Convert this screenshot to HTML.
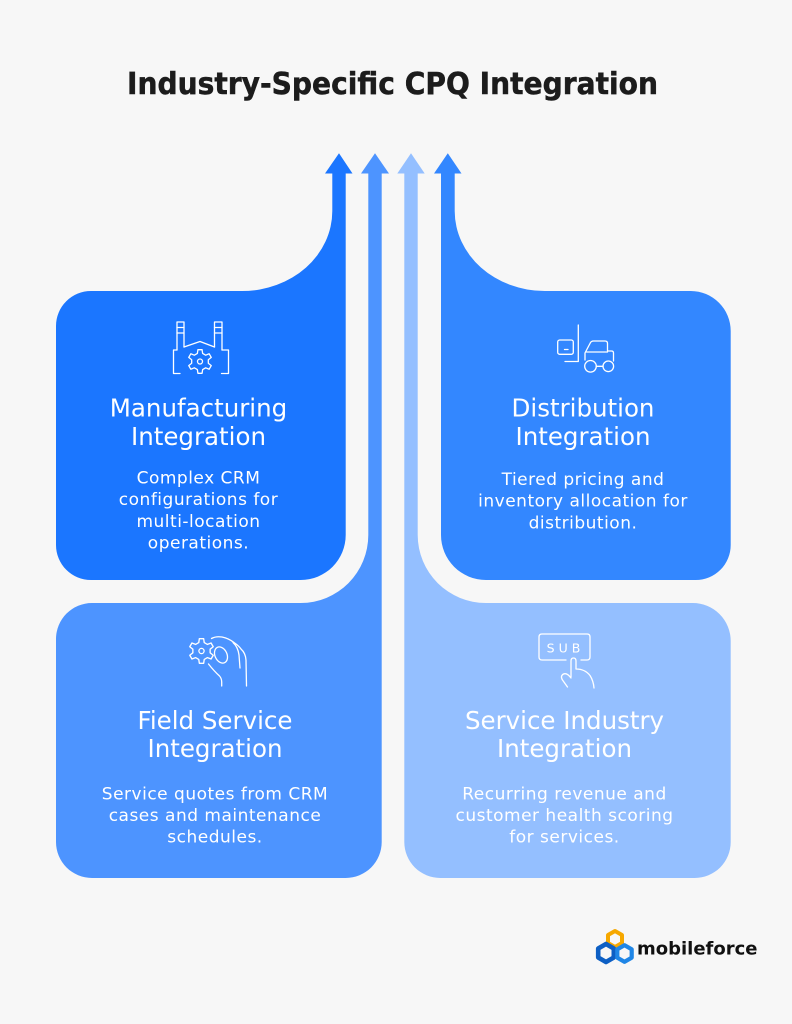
<!DOCTYPE html>
<html>
<head>
<meta charset="utf-8">
<style>
  html, body { margin:0; padding:0; background:#f7f7f7; }
  body { width:792px; height:1024px; overflow:hidden; }
  svg { display:block; }
  .t { font-family: "DejaVu Sans", "Liberation Sans", sans-serif; fill:#ffffff; text-anchor:middle; }
  .h { font-size:24.5px; }
  .b { font-size:17px; letter-spacing:0.5px; }
  .ic { fill:none; stroke:#ffffff; stroke-width:1.3; stroke-linecap:round; stroke-linejoin:round; }
</style>
</head>
<body>
<svg width="792" height="1024" viewBox="0 0 792 1024" xmlns="http://www.w3.org/2000/svg">
  <rect width="792" height="1024" fill="#f7f7f7"/>

  <!-- Title -->
  <text x="392.5" y="94" font-family="'DejaVu Sans', 'Liberation Sans', sans-serif" font-weight="bold" font-size="30" fill="#1c1c1c" stroke="#1c1c1c" stroke-width="0.5" text-anchor="middle" textLength="531" lengthAdjust="spacingAndGlyphs">Industry-Specific CPQ Integration</text>

  <!-- Shape 2: Field Service -->
  <path fill="#4d94ff" d="M368.3 173 L381.7 173 L381.7 842 A36 36 0 0 1 345.7 878 L92 878 A36 36 0 0 1 56 842 L56 639 A36 36 0 0 1 92 603 L300.7 603 A67.6 68 0 0 0 368.3 535 Z"/>
  <polygon fill="#4d94ff" points="361,173.5 375,153.3 389,173.5"/>

  <!-- Shape 3: Service Industry -->
  <path fill="#94bfff" d="M404.3 173 L417.7 173 L417.7 535 A68.3 68 0 0 0 486 603 L692.7 603 A38 38 0 0 1 730.7 641 L730.7 842 A36 36 0 0 1 694.7 878 L440.3 878 A36 36 0 0 1 404.3 842 Z"/>
  <polygon fill="#94bfff" points="397.3,173.5 411,153.3 424.7,173.5"/>

  <!-- Shape 1: Manufacturing -->
  <path fill="#1b76ff" d="M345.7 173 L332.3 173 L332.3 211 A90 80 0 0 1 242.3 291 L91 291 A35 35 0 0 0 56 326 L56 545 A35 35 0 0 0 91 580 L300.7 580 A45 45 0 0 0 345.7 535 Z"/>
  <polygon fill="#1b76ff" points="325,173.5 339,153.3 352.5,173.5"/>

  <!-- Shape 4: Distribution -->
  <path fill="#3387ff" d="M441 173 L454.7 173 L454.7 211 A90 80 0 0 0 544.7 291 L690.7 291 A40 40 0 0 1 730.7 331 L730.7 545 A35 35 0 0 1 695.7 580 L486 580 A45 45 0 0 1 441 535 Z"/>
  <polygon fill="#3387ff" points="434,173.5 447.8,153.3 461.5,173.5"/>

  <!-- Manufacturing icon -->
  <g class="ic">
    <path d="M177 350 V322 H184 V347"/>
    <path d="M177 327.5 H184 M177 333 H184"/>
    <path d="M214.5 347 V322 H222 V350"/>
    <path d="M214.5 327.5 H222 M214.5 333 H222"/>
    <path d="M184 347 L200 341.5 L214.5 347"/>
    <path d="M177 350 H173.5 V373.5 H180"/>
    <path d="M222 350 H228.5 V373.5 H221.5"/>
    <polygon transform="translate(200,361.5)" points="-2.63,-8.08 -2.08,-11.82 2.08,-11.82 2.63,-8.08 5.69,-6.32 9.19,-7.71 11.28,-4.10 8.31,-1.77 8.31,1.77 11.28,4.10 9.19,7.71 5.69,6.32 2.63,8.08 2.08,11.82 -2.08,11.82 -2.63,8.08 -5.69,6.32 -9.19,7.71 -11.28,4.10 -8.31,1.77 -8.31,-1.77 -11.28,-4.10 -9.19,-7.71 -5.69,-6.32"/>
    <circle cx="200" cy="361.5" r="2.5"/>
  </g>

  <!-- Distribution icon (forklift) -->
  <g class="ic">
    <rect x="557.7" y="340" width="15.6" height="14.3" rx="2"/>
    <path d="M564.5 349.5 H568"/>
    <path d="M578.3 325 V361.5 H565"/>
    <path d="M585 360 V353 L590 343.5 Q591 341 593.5 341 L605 341 Q607.5 341 607.5 343.5 L607.5 351 L611.5 351 Q613.5 351 613.5 353 L613.5 361"/>
    <path d="M586.5 352 H607.5"/>
    <circle cx="590.5" cy="366.3" r="5.8"/>
    <circle cx="608.3" cy="366.3" r="5.3"/>
    <path d="M596.3 366.3 H603"/>
  </g>

  <!-- Field Service icon -->
  <g class="ic">
    <polygon transform="translate(201.5,651) scale(1.04)" points="-2.63,-8.08 -2.08,-11.82 2.08,-11.82 2.63,-8.08 5.69,-6.32 9.19,-7.71 11.28,-4.10 8.31,-1.77 8.31,1.77 11.28,4.10 9.19,7.71 5.69,6.32 2.63,8.08 2.08,11.82 -2.08,11.82 -2.63,8.08 -5.69,6.32 -9.19,7.71 -11.28,4.10 -8.31,1.77 -8.31,-1.77 -11.28,-4.10 -9.19,-7.71 -5.69,-6.32"/>
    <circle cx="201.5" cy="651" r="2.6"/>
    <ellipse cx="221" cy="655" rx="6" ry="8.5" transform="rotate(-25 221 655)"/>
    <path d="M211.5 638.5 Q216 636 222 637 Q229 638.5 234 642.5 Q239 646 241 649 Q245.5 653 246 660 L246.5 686"/>
    <path d="M233 642.5 Q238 647 239 655 L240 668"/>
    <path d="M208.5 664 Q214 671 219.5 676 Q221.7 678.5 221.7 682 L221.7 686"/>
  </g>

  <!-- Service Industry icon (SUB) -->
  <g class="ic">
    <path d="M566 660 H542 Q539 660 539 657 V637 Q539 634 542 634 H587 Q590 634 590 637 V657 Q590 660 587 660 H581"/>
    <path d="M571 677 V661 Q571 658 573.5 658 Q576 658 576 661 V669 Q585 669 590 675.5 Q593.5 681 594 688"/>
    <path d="M571 678 Q567 672.5 563.5 674 Q560 676 562.5 680 L567.5 687"/>
  </g>
  <text x="565.5" y="652.3" font-family="'DejaVu Sans', 'Liberation Sans', sans-serif" font-size="12.5" fill="#ffffff" text-anchor="middle" letter-spacing="4">SUB</text>

  <!-- Manufacturing text -->
  <text class="t h" x="198.5" y="416.7">Manufacturing</text>
  <text class="t h" x="198.5" y="445">Integration</text>
  <text class="t b" x="198.5" y="483.5">Complex CRM</text>
  <text class="t b" x="198.5" y="505.2">configurations for</text>
  <text class="t b" x="198.5" y="526.9">multi-location</text>
  <text class="t b" x="198.5" y="548.6">operations.</text>

  <!-- Distribution text -->
  <text class="t h" x="583" y="416.7">Distribution</text>
  <text class="t h" x="583" y="445">Integration</text>
  <text class="t b" x="583" y="485">Tiered pricing and</text>
  <text class="t b" x="583" y="506.7">inventory allocation for</text>
  <text class="t b" x="583" y="528.4">distribution.</text>

  <!-- Field Service text -->
  <text class="t h" x="215" y="729">Field Service</text>
  <text class="t h" x="215" y="757">Integration</text>
  <text class="t b" x="215" y="799.5">Service quotes from CRM</text>
  <text class="t b" x="215" y="821">cases and maintenance</text>
  <text class="t b" x="215" y="842.5">schedules.</text>

  <!-- Service Industry text -->
  <text class="t h" x="564.5" y="729">Service Industry</text>
  <text class="t h" x="564.5" y="757">Integration</text>
  <text class="t b" x="564.5" y="799.5">Recurring revenue and</text>
  <text class="t b" x="564.5" y="821">customer health scoring</text>
  <text class="t b" x="564.5" y="842.5">for services.</text>

  <!-- Logo -->
  <g fill="none" stroke-linejoin="round">
    <polygon transform="translate(615,939)" points="0,-8 7,-4 7,4 0,8 -7,4 -7,-4" stroke="#f6a800" stroke-width="4"/>
    <polygon transform="translate(606,953)" points="0,-9 7.8,-4.5 7.8,4.5 0,9 -7.8,4.5 -7.8,-4.5" stroke="#0d5fc4" stroke-width="4.6"/>
    <polygon transform="translate(624.5,953.5)" points="0,-8.3 7.2,-4.15 7.2,4.15 0,8.3 -7.2,4.15 -7.2,-4.15" stroke="#1f86e6" stroke-width="4.2"/>
  </g>
  <text x="637" y="954.5" font-family="'DejaVu Sans', 'Liberation Sans', sans-serif" font-weight="bold" font-size="18" fill="#111111">mobileforce</text>
</svg>
</body>
</html>
